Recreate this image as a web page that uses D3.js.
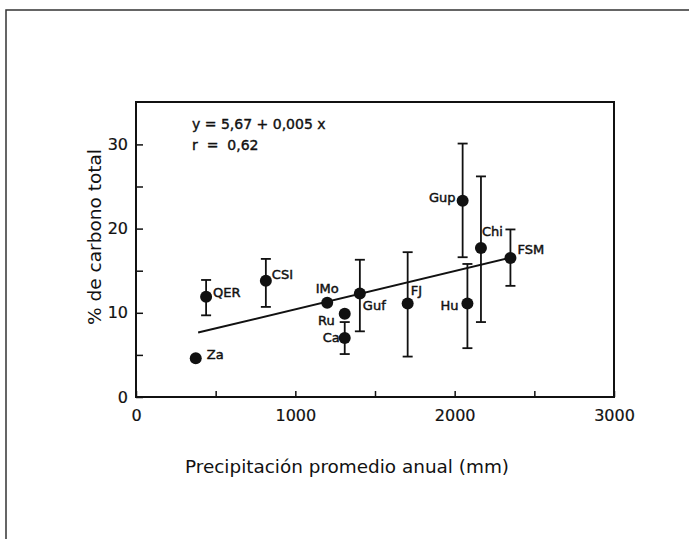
<!DOCTYPE html>
<html>
<head>
<meta charset="utf-8">
<script src="https://cdn.jsdelivr.net/npm/d3@7"></script>
<style>
  body { margin: 0; background: #fff; }
  svg { display: block; }
  text { font-family: "DejaVu Sans", sans-serif; fill: #111; white-space: pre; }
</style>
</head>
<body>
<svg></svg>
<script>
// site codes, mean annual precipitation (mm), % total carbon, error bar ends
let sites  = ["Za", "QER", "CSI", "IMo", "Ru", "Ca", "Guf", "FJ", "Gup", "Hu", "Chi", "FSM"]
let precip = [375, 440, 815, 1200, 1310, 1310, 1405, 1705, 2050, 2080, 2165, 2350]
let carbon = [4.6, 11.9, 13.8, 11.2, 9.9, 7.0, 12.3, 11.1, 23.3, 11.1, 17.7, 16.5]
let errHi  = [null, 13.9, 16.4, null, null, 8.9, 16.3, 17.2, 30.1, 15.8, 26.2, 19.9]
let errLo  = [null, 9.7, 10.7, null, null, 5.1, 7.8, 4.8, 16.6, 5.8, 8.9, 13.2]

// fitted line, drawn from first to last end
let fitX = [390, 2350]
let fitY = [7.65, 16.55]

let xTicks = [0, 500, 1000, 1500, 2000, 2500, 3000]
let yTicks = [0, 5, 10, 15, 20, 25, 30]

let eqText = ["y = 5,67 + 0,005 x", "r  =  0,62"]

// label placement next to each dot: [dx, dy, anchor]
let labelPos = {
  Za: [11, -4, "start"], QER: [7, -4, "start"], CSI: [6, -6, "start"],
  IMo: [0, -14, "middle"], Ru: [-10, 7, "end"], Ca: [-5, -1, "end"],
  Guf: [3, 12, "start"], FJ: [3, -13, "start"], Gup: [-7, -3, "end"],
  Hu: [-9, 2, "end"], Chi: [1, -16, "start"], FSM: [7, -9, "start"]
}

let width = 689
let height = 539
let padLeft = 136, padRight = 614, padTop = 102, padBottom = 397

let svg = d3.select("svg").attr("width", width).attr("height", height)

let xScale = d3.scaleLinear().domain([0, 3000]).range([padLeft, padRight])
let yScale = d3.scaleLinear().domain([0, 35]).range([padBottom, padTop + 0.3])

// page frame (top and left edges only)
svg.append("path")
  .attr("d", `M6,${height} L6,10 L${width},10`)
  .attr("fill", "none").attr("stroke", "#333").attr("stroke-width", 1.5)

// axes, ticks pointing inward
let xAxis = d3.axisBottom(xScale).tickValues(xTicks).tickSizeInner(-6).tickSizeOuter(0)
  .tickPadding(13).tickFormat(d => d % 1000 === 0 ? d : "")
let yAxis = d3.axisLeft(yScale).tickValues(yTicks).tickSizeInner(-7).tickSizeOuter(0)
  .tickPadding(8).tickFormat(d => d % 10 === 0 ? d : "")

let gx = svg.append("g").attr("transform", `translate(0,${padBottom})`).call(xAxis)
let gy = svg.append("g").attr("transform", `translate(${padLeft},0)`).call(yAxis)
for (let g of [gx, gy]) {
  g.select(".domain").remove()
  g.selectAll(".tick line").attr("stroke", "#111").attr("stroke-width", 1.5)
  g.selectAll(".tick text").attr("font-size", 16).attr("fill", "#111")
    .attr("stroke", "#111").attr("stroke-width", 0.2)
}

// plot frame
svg.append("rect")
  .attr("x", padLeft).attr("y", padTop).attr("width", padRight - padLeft).attr("height", padBottom - padTop)
  .attr("fill", "none").attr("stroke", "#111").attr("stroke-width", 2)

// regression line
svg.append("line")
  .attr("x1", xScale(fitX[0])).attr("y1", yScale(fitY[0]))
  .attr("x2", xScale(fitX[1])).attr("y2", yScale(fitY[1]))
  .attr("stroke", "#111").attr("stroke-width", 2)

let pts = sites.map((s, i) => ({ s: s, x: precip[i], y: carbon[i], hi: errHi[i], lo: errLo[i] }))
let bars = pts.filter(d => d.hi !== null)

let eb = svg.append("g").attr("stroke", "#111").attr("stroke-width", 1.8)
eb.selectAll(".stem").data(bars).enter().append("line")
  .attr("x1", d => xScale(d.x)).attr("x2", d => xScale(d.x))
  .attr("y1", d => yScale(d.hi)).attr("y2", d => yScale(d.lo))
eb.selectAll(".capH").data(bars).enter().append("line")
  .attr("x1", d => xScale(d.x) - 5).attr("x2", d => xScale(d.x) + 5)
  .attr("y1", d => yScale(d.hi)).attr("y2", d => yScale(d.hi))
eb.selectAll(".capL").data(bars).enter().append("line")
  .attr("x1", d => xScale(d.x) - 5).attr("x2", d => xScale(d.x) + 5)
  .attr("y1", d => yScale(d.lo)).attr("y2", d => yScale(d.lo))

svg.selectAll("circle").data(pts).enter().append("circle")
  .attr("cx", d => xScale(d.x)).attr("cy", d => yScale(d.y)).attr("r", 6)
  .attr("fill", "#111")

svg.selectAll(".lab").data(pts).enter().append("text")
  .attr("class", "lab")
  .attr("x", d => xScale(d.x) + labelPos[d.s][0])
  .attr("y", d => yScale(d.y) + labelPos[d.s][1])
  .attr("text-anchor", d => labelPos[d.s][2])
  .attr("dominant-baseline", "central")
  .attr("font-size", 13).attr("stroke", "#111").attr("stroke-width", 0.45)
  .text(d => d.s)

// equation block
svg.selectAll(".eq").data(eqText).enter().append("text")
  .attr("class", "eq")
  .attr("x", 192).attr("y", (d, i) => 124 + i * 21)
  .attr("dominant-baseline", "central")
  .attr("font-size", 14).attr("stroke", "#111").attr("stroke-width", 0.4)
  .text(d => d)

// axis titles
svg.append("text")
  .attr("x", 347).attr("y", 466)
  .attr("text-anchor", "middle").attr("dominant-baseline", "central")
  .attr("font-size", 18)
  .attr("textLength", 324).attr("lengthAdjust", "spacingAndGlyphs")
  .text("Precipitación promedio anual (mm)")

svg.append("text")
  .attr("transform", "translate(95,237) rotate(-90)")
  .attr("text-anchor", "middle").attr("dominant-baseline", "central")
  .attr("font-size", 17)
  .attr("textLength", 176).attr("lengthAdjust", "spacingAndGlyphs")
  .text("% de carbono total")
</script>
</body>
</html>
